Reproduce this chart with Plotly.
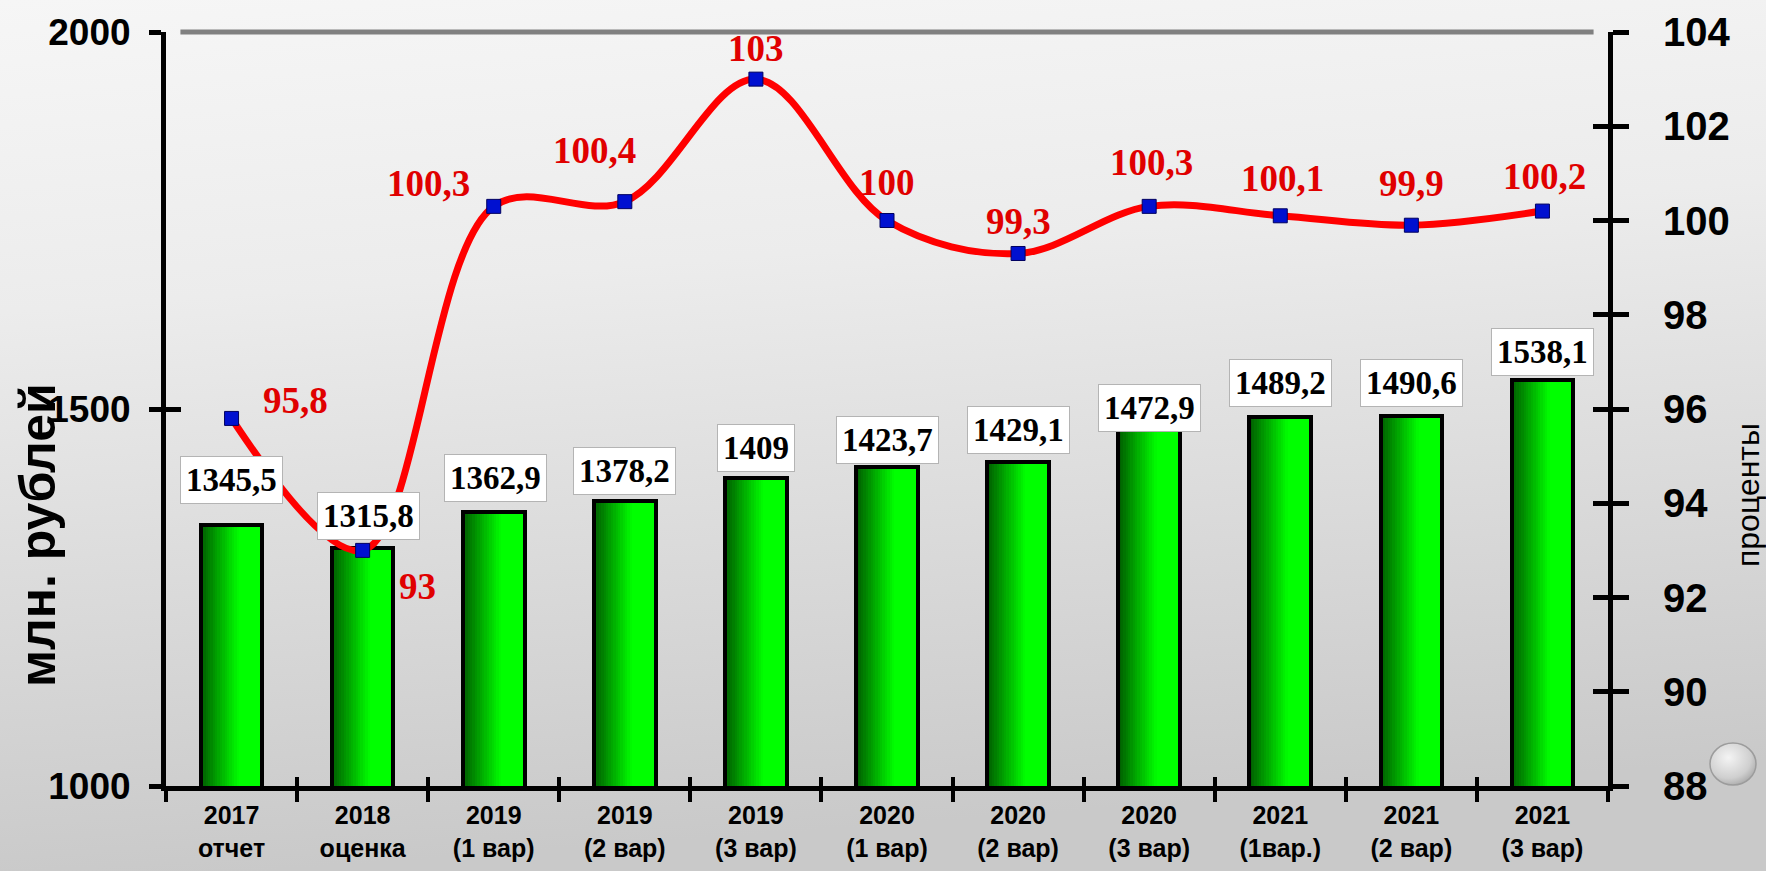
import base64
import plotly.graph_objects as go

# ---------------- data ----------------
categories = ["2017<br>отчет", "2018<br>оценка", "2019<br>(1 вар)", "2019<br>(2 вар)",
              "2019<br>(3 вар)", "2020<br>(1 вар)", "2020<br>(2 вар)", "2020<br>(3 вар)",
              "2021<br>(1вар.)", "2021<br>(2 вар)", "2021<br>(3 вар)"]
amount_mln = [1345.5, 1315.8, 1362.9, 1378.2, 1409, 1423.7, 1429.1, 1472.9, 1489.2, 1490.6, 1538.1]
percent = [95.8, 93, 100.3, 100.4, 103, 100, 99.3, 100.3, 100.1, 99.9, 100.2]
left_ticks = [1000, 1500, 2000]
right_ticks = [88, 90, 92, 94, 96, 98, 100, 102, 104]

# label placement tweaks (pixels)
bar_label_lift = [45, 32, 34, 30, 30, 27, 32, 21, 34, 33, 28]
bar_label_dx = [0, 6, 2, 0, 0, 0, 0, 0, 0, 0, 0]
pct_label_dx = [64, 55, -65, -30, 0, 0, 0, 2, 2, 0, 2]
pct_label_dy = [18, -36, 23, 51, 31, 38, 32, 44, 37, 42, 35]


def fmt(v):
    return ("%g" % v).replace(".", ",")


BAR_W = 0.47
fig = go.Figure()

# bars: gradient built from stacked slices (bright base, darker slices on left)
fig.add_trace(go.Bar(x=categories, y=amount_mln, width=BAR_W, marker_color="#00ff00",
                     marker_line_width=0, hoverinfo="skip", showlegend=False))
n_steps = 16
grad_frac = 0.62
for k in range(n_steps):
    frac = 1 - k / n_steps
    w = BAR_W * grad_frac * frac
    t = max(frac - 0.5 / n_steps, 0)
    g = int(0x5c + (0xff - 0x5c) * t)
    color = "#00%02x00" % g
    fig.add_trace(go.Bar(x=categories, y=amount_mln, width=w, offset=-BAR_W / 2,
                         marker_color=color, marker_line_width=0,
                         hoverinfo="skip", showlegend=False))
# outline
fig.add_trace(go.Bar(x=categories, y=amount_mln, width=BAR_W,
                     marker=dict(color="rgba(0,0,0,0)", line=dict(color="black", width=4)),
                     showlegend=False))

# percent line
fig.add_trace(go.Scatter(x=categories, y=percent, yaxis="y2", mode="lines+markers",
                         line=dict(color="#ff0000", width=7, shape="spline", smoothing=1.0),
                         marker=dict(symbol="square", size=14, color="#0010d0",
                                     line=dict(color="#000060", width=1)),
                         showlegend=False))

# invisible traces to carry the inside tick axes
fig.add_trace(go.Scatter(x=categories, y=amount_mln, xaxis="x3", yaxis="y3", mode="markers",
                         marker=dict(opacity=0), hoverinfo="skip", showlegend=False))
fig.add_trace(go.Scatter(x=categories, y=percent, xaxis="x3", yaxis="y4", mode="markers",
                         marker=dict(opacity=0), hoverinfo="skip", showlegend=False))

ann = []
for i, c in enumerate(categories):
    ann.append(dict(x=c, y=amount_mln[i], xref="x", yref="y", text=fmt(amount_mln[i]),
                    showarrow=False, yanchor="middle", xanchor="center",
                    xshift=bar_label_dx[i], yshift=bar_label_lift[i],
                    font=dict(family="Liberation Serif", size=33, color="black", weight="bold"),
                    bgcolor="white", bordercolor="#b4b4b4", borderwidth=1, borderpad=5))
    ann.append(dict(x=c, y=percent[i], xref="x", yref="y2", text=fmt(percent[i]),
                    showarrow=False, yanchor="middle", xanchor="center",
                    xshift=pct_label_dx[i], yshift=pct_label_dy[i],
                    font=dict(family="Liberation Serif", size=37, color="#e00000", weight="bold")))

L, R, T, B = 166, 158, 32, 85
W, H = 1766, 871
pw, ph = W - L - R, H - T - B

ann.append(dict(x=(38 - L) / pw, y=(H - B - 535) / ph, xref="paper", yref="paper",
                xanchor="center", yanchor="middle",
                text="млн. рублей", textangle=-90, showarrow=False,
                font=dict(family="Liberation Sans", size=50, color="black", weight="bold")))
ann.append(dict(x=(1748 - L) / pw, y=(H - B - 495) / ph, xref="paper", yref="paper",
                xanchor="center", yanchor="middle",
                text="проценты", textangle=-90, showarrow=False,
                font=dict(family="Liberation Sans", size=32, color="black")))

svg = ("<svg xmlns='http://www.w3.org/2000/svg' width='1766' height='871' preserveAspectRatio='none'>"
       "<defs><linearGradient id='g' x1='0' y1='0' x2='0.15' y2='1'>"
       "<stop offset='0' stop-color='#f6f6f6'/><stop offset='0.35' stop-color='#ececec'/>"
       "<stop offset='1' stop-color='#c9c9c9'/></linearGradient>"
       "<radialGradient id='c' cx='0.4' cy='0.35' r='0.7'>"
       "<stop offset='0' stop-color='#f4f4f4'/><stop offset='0.7' stop-color='#cfcfcf'/>"
       "<stop offset='1' stop-color='#a8a8a8'/></radialGradient></defs>"
       "<rect width='1766' height='871' fill='url(#g)'/>"
       "<ellipse cx='1733' cy='764' rx='23' ry='21' fill='url(#c)' stroke='#9c9c9c' stroke-width='1.5'/>"
       "</svg>")
src = "data:image/svg+xml;base64," + base64.b64encode(svg.encode()).decode()

axis_common = dict(showgrid=False, zeroline=False, automargin=False)
fig.update_layout(
    width=W, height=H,
    margin=dict(l=L, r=R, t=T, b=B, autoexpand=False),
    paper_bgcolor="#e4e4e4", plot_bgcolor="rgba(0,0,0,0)",
    barmode="overlay", bargap=0,
    images=[dict(source=src, xref="paper", yref="paper", x=-L / pw, y=1 + T / ph,
                 sizex=W / pw, sizey=H / ph, sizing="stretch", xanchor="left", yanchor="top",
                 layer="below")],
    xaxis=dict(type="category", tickson="boundaries", ticks="outside", ticklen=11, tickwidth=4,
               tickcolor="black", showline=True, linecolor="black", linewidth=5,
               tickfont=dict(family="Liberation Sans Narrow, Liberation Sans", size=25,
                             color="black", weight="bold"),
               ticklabelstandoff=3, range=[-0.5, 10.5], **axis_common),
    xaxis3=dict(type="category", overlaying="x", side="bottom", tickson="boundaries",
                ticks="inside", ticklen=9, tickwidth=4, tickcolor="black",
                showticklabels=False, showline=False, range=[-0.5, 10.5], **axis_common),
    yaxis=dict(range=[1000, 2000], tickvals=left_ticks, ticks="outside", ticklen=12, tickwidth=5,
               tickcolor="black", showline=True, linecolor="black", linewidth=5,
               tickfont=dict(family="Liberation Sans", size=37, color="black", weight="bold"),
               ticklabelstandoff=11, **axis_common),
    yaxis3=dict(range=[1000, 2000], tickvals=left_ticks, overlaying="y", side="left",
                ticks="inside", ticklen=15, tickwidth=5, tickcolor="black",
                showticklabels=False, showline=False, **axis_common),
    yaxis2=dict(range=[88, 104], tickvals=right_ticks, overlaying="y", side="right",
                ticks="outside", ticklen=16, tickwidth=5, tickcolor="black",
                showline=True, linecolor="black", linewidth=5,
                tickfont=dict(family="Liberation Sans", size=40, color="black", weight="bold"),
                ticklabelstandoff=26, **axis_common),
    yaxis4=dict(range=[88, 104], tickvals=right_ticks, overlaying="y", side="right",
                ticks="inside", ticklen=15, tickwidth=5, tickcolor="black",
                showticklabels=False, showline=False, **axis_common),
    shapes=[dict(type="line", xref="paper", yref="paper", x0=0.01, x1=0.99, y0=1, y1=1,
                 line=dict(color="#808080", width=5), layer="below")],
    annotations=ann,
)

fig.write_html("out.html", config={"displayModeBar": False},
               post_script="document.body.style.margin='0';document.body.style.overflow='hidden';")
